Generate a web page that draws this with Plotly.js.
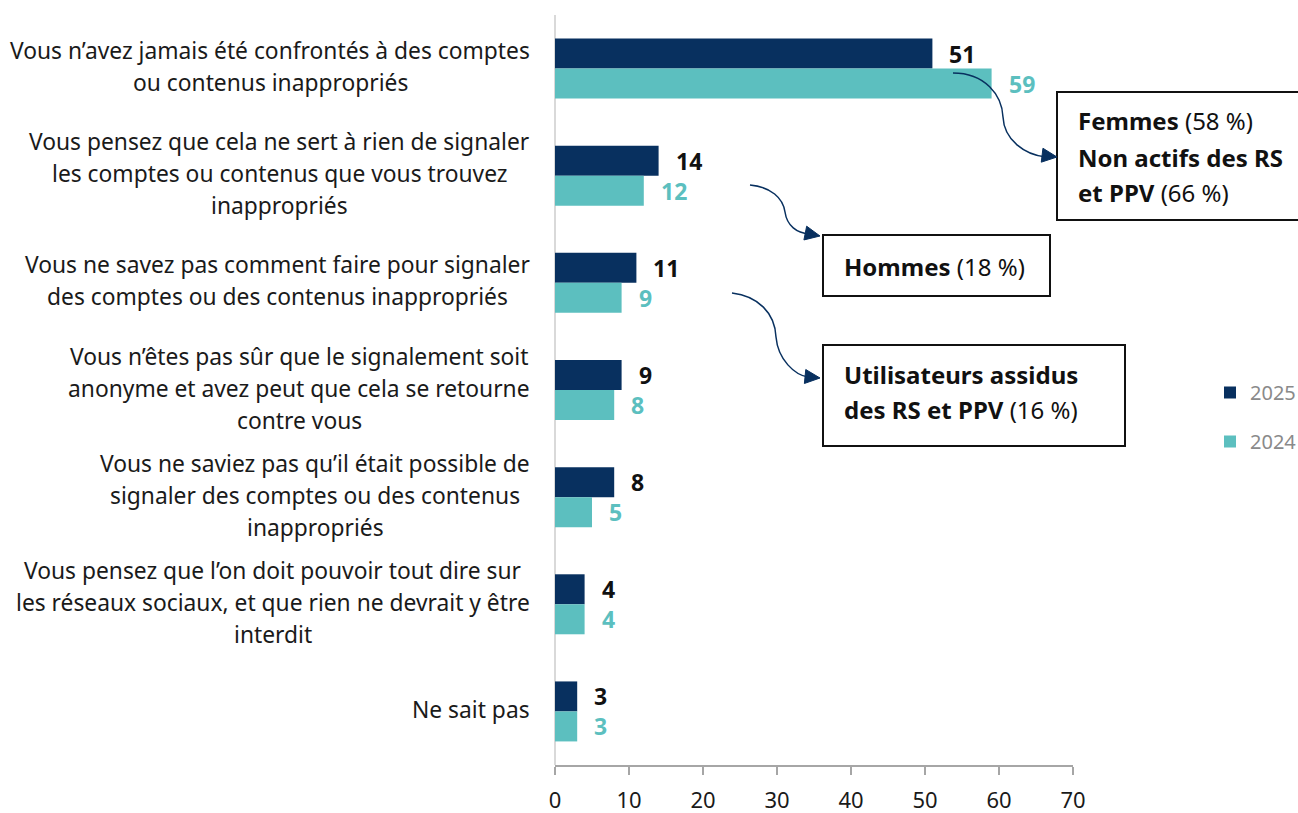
<!DOCTYPE html>
<html>
<head>
<meta charset="utf-8">
<script src="https://cdn.plot.ly/plotly-3.0.1.min.js"></script>
<style>html,body{margin:0;padding:0;background:#fff}#chart{width:1298px;height:813px}</style>
</head>
<body>
<div id="chart"></div>
<script>
// ---- Data ----
const categories = [
  "Vous n’avez jamais été confrontés à des comptes<br>ou contenus inappropriés",
  "Vous pensez que cela ne sert à rien de signaler<br>les comptes ou contenus que vous trouvez<br>inappropriés",
  "Vous ne savez pas comment faire pour signaler<br>des comptes ou des contenus inappropriés",
  "Vous n’êtes pas sûr que le signalement soit<br>anonyme et avez peut que cela se retourne<br>contre vous",
  "Vous ne saviez pas qu’il était possible de<br>signaler des comptes ou des contenus<br>inappropriés",
  "Vous pensez que l’on doit pouvoir tout dire sur<br>les réseaux sociaux, et que rien ne devrait y être<br>interdit",
  "Ne sait pas"
];
const values2025 = [51, 14, 11, 9, 8, 4, 3];
const values2024 = [59, 12, 9, 8, 5, 4, 3];
const seriesNames = ["2025", "2024"];
const xTicks = [0, 10, 20, 30, 40, 50, 60, 70];
const callouts = [
  ["<b>Femmes</b> (58 %)", "<b>Non actifs des RS</b>", "<b>et PPV</b> (66 %)"],
  ["<b>Hommes</b> (18 %)"],
  ["<b>Utilisateurs assidus</b>", "<b>des RS et PPV</b> (16 %)"]
];

// ---- Styling / layout ----
const DARK = "#08305f", TEAL = "#5cbfbf";
const L = 555, R = 225, T = 15, B = 48;
const W = 1298 - L - R, H = 813 - T - B;
const X = p => (p - L) / W;
const Y = p => (T + H - p) / H;
const FONT = "Noto Sans, Open Sans, sans-serif";
const CAT_SIZE = 22.8;

const cv = document.createElement("canvas").getContext("2d");
cv.font = CAT_SIZE + "px 'Noto Sans'";
const measure = s => cv.measureText(s.replace(/<[^>]+>/g, "")).width;

const traces = [
  {type: "bar", orientation: "h", name: seriesNames[0], y: categories, x: values2025,
   marker: {color: DARK}, legendgroup: "a", hoverinfo: "x"},
  {type: "bar", orientation: "h", name: seriesNames[1], y: categories, x: values2024,
   marker: {color: TEAL}, legendgroup: "b", hoverinfo: "x"}
];

const annotations = [];
// category labels, one annotation per line, lines centred on the block
categories.forEach((c, i) => {
  const lines = c.split("<br>");
  const maxW = Math.max(...lines.map(measure));
  const cx = 530 - maxW / 2;
  lines.forEach((ln, j) => {
    annotations.push({
      xref: "paper", yref: "y", x: X(cx), y: i, xanchor: "center", yanchor: "middle",
      text: ln, showarrow: false, align: "center",
      yshift: ((lines.length - 1) / 2 - j) * 32 + 2,
      font: {family: FONT, size: CAT_SIZE, color: "#1a1a1a"}
    });
  });
});
// value labels
[[values2025, "#111111", 15], [values2024, TEAL, -15]].forEach(([vals, col, ys]) => {
  vals.forEach((v, i) => {
    annotations.push({
      xref: "x", yref: "y", x: v, y: i, xanchor: "left", yanchor: "middle",
      xshift: 15, yshift: ys, text: String(v), showarrow: false,
      font: {family: FONT, size: 23, color: col, weight: "bold"}
    });
  });
});
// callout boxes
const boxes = [
  {x0: 1057, x1: 1305, y0: 92, y1: 220, tx: 1076, ty: [120, 157, 193]},
  {x0: 823, x1: 1050, y0: 235, y1: 296, tx: 842, ty: [266]},
  {x0: 823, x1: 1125, y0: 345, y1: 446, tx: 842, ty: [374, 410]}
];
const shapes = [];
boxes.forEach((b, k) => {
  shapes.push({type: "rect", xref: "paper", yref: "paper",
    x0: X(b.x0), x1: X(b.x1), y0: Y(b.y1), y1: Y(b.y0),
    line: {color: "#111", width: 2}, fillcolor: "rgba(0,0,0,0)"});
  callouts[k].forEach((t, j) => {
    annotations.push({xref: "paper", yref: "paper", x: X(b.tx), y: Y(b.ty[j]),
      xanchor: "left", yanchor: "middle", text: t, showarrow: false,
      font: {family: FONT, size: 24, color: "#111"}});
  });
});
// curved arrows (pixel paths converted to paper coords)
function pth(pts) {
  return pts.map(s => s.replace(/(-?[\d.]+),(-?[\d.]+)/g, (m, a, b) => X(+a) + "," + Y(+b))).join(" ");
}
const arrows = [
  {curve: ["M953,73", "C985,73 1002,95 1003,117", "C1004,140 1025,155 1046,157"], tip: [1057, 157], dir: [1, 0.12]},
  {curve: ["M750,185", "C771,187 783,198 785,212", "C787,226 797,233 809,234"], tip: [820, 236], dir: [1, 0.2]},
  {curve: ["M732,293", "C758,296 775,313 776,337", "C778,360 795,375 808,377"], tip: [820, 378], dir: [1, 0.1]}
];
arrows.forEach(a => {
  shapes.push({type: "path", xref: "paper", yref: "paper", path: pth(a.curve),
    line: {color: DARK, width: 1.5}});
  const [tx, ty] = a.tip;
  const n = Math.hypot(a.dir[0], a.dir[1]);
  const dx = a.dir[0] / n, dy = a.dir[1] / n;
  const bx = tx - 15 * dx, by = ty - 15 * dy;
  const p1 = [bx - 7 * dy, by + 7 * dx], p2 = [bx + 7 * dy, by - 7 * dx];
  shapes.push({type: "path", xref: "paper", yref: "paper",
    path: `M${X(tx)},${Y(ty)} L${X(p1[0])},${Y(p1[1])} L${X(p2[0])},${Y(p2[1])} Z`,
    fillcolor: DARK, line: {color: DARK, width: 1}});
});
// vertical axis line (light grey)
shapes.push({type: "line", xref: "paper", yref: "paper", x0: 0, x1: 0, y0: 0, y1: 1,
  line: {color: "#d9d9d9", width: 2}, layer: "below"});

const layout = {
  width: 1298, height: 813,
  margin: {l: L, r: R, t: T, b: B, pad: 0, autoexpand: false},
  paper_bgcolor: "#fff", plot_bgcolor: "#fff",
  font: {family: FONT, color: "#1a1a1a"},
  barmode: "group", bargap: 0.44, bargroupgap: 0,
  showlegend: true,
  legend: {x: X(1210), xanchor: "left", y: Y(417), yanchor: "middle",
    font: {family: FONT, size: 20, color: "#8a8a8a"}, tracegroupgap: 20,
    itemwidth: 30, bgcolor: "rgba(0,0,0,0)"},
  xaxis: {range: [0, 70], tickvals: xTicks, ticktext: xTicks.map(String),
    showgrid: false, zeroline: false, showline: true, linecolor: "#a6a6a6", linewidth: 1.5,
    ticks: "outside", ticklen: 8, tickcolor: "#a6a6a6", tickwidth: 1.5, ticklabelstandoff: 7,
    tickfont: {family: FONT, size: 22, color: "#1a1a1a"}, fixedrange: true, automargin: false},
  yaxis: {type: "category", autorange: "reversed", showticklabels: false, showgrid: false,
    zeroline: false, showline: false, ticks: "", fixedrange: true, automargin: false},
  annotations: annotations,
  shapes: shapes
};

Plotly.newPlot("chart", traces, layout, {displayModeBar: false, staticPlot: true});
</script>
</body>
</html>
